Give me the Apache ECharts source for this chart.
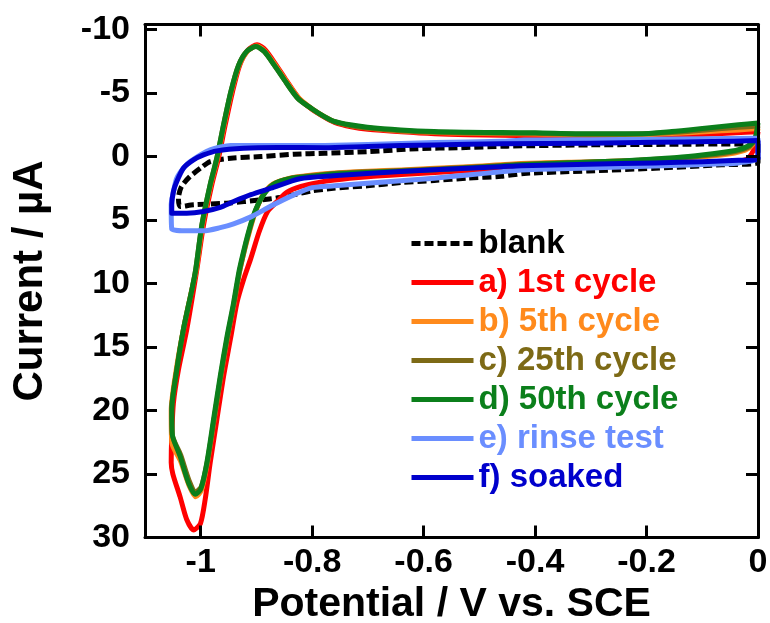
<!DOCTYPE html>
<html>
<head>
<meta charset="utf-8">
<script src="https://cdn.jsdelivr.net/npm/echarts@6/dist/echarts.min.js"></script>
<style>
  html, body { margin: 0; padding: 0; background: #fff; }
  #chart { width: 770px; height: 623px; }
</style>
</head>
<body>
<div id="chart"></div>
<script>
// ---- Data (potential V vs SCE, current µA) ----
const xTicks = [-1, -0.8, -0.6, -0.4, -0.2, 0];
const yTicks = [-10, -5, 0, 5, 10, 15, 20, 25, 30];

const seriesNames = ['blank', 'a) 1st cycle', 'b) 5th cycle', 'c) 25th cycle', 'd) 50th cycle', 'e) rinse test', 'f) soaked'];
const seriesColors = ['#000000', '#ff0000', '#ff8a1c', '#7d6a16', '#0b7f1b', '#6a8eff', '#0000cc'];

const blankData = [
  [0, -1.0], [0, 0.47], [-0.065, 0.65], [-0.185, 0.92], [-0.305, 1.13], [-0.42, 1.33],
  [-0.461, 1.55], [-0.521, 1.7], [-0.581, 1.88], [-0.641, 2.05], [-0.701, 2.3], [-0.762, 2.5],
  [-0.80, 2.7], [-0.832, 3.0], [-0.862, 3.25], [-0.892, 3.41], [-0.953, 3.67], [-1.013, 3.8],
  [-1.037, 3.94], [-1.04, 3.3], [-1.035, 2.4], [-1.02, 1.6], [-1.0, 0.9], [-0.983, 0.39],
  [-0.946, 0.13], [-0.892, 0.0], [-0.832, -0.18], [-0.778, -0.26], [-0.70, -0.39],
  [-0.611, -0.62], [-0.533, -0.7], [-0.45, -0.82], [-0.3, -0.92], [-0.1, -0.98], [0, -1.0]
];

const cycle1Data = [
  [0, -1.95], [-0.005, -0.8], [-0.02, 0.2], [-0.06, 0.45], [-0.12, 0.55], [-0.2, 0.62],
  [-0.3, 0.72], [-0.42, 0.88], [-0.52, 1.1], [-0.64, 1.42], [-0.70, 1.6], [-0.76, 1.85],
  [-0.79, 2.05], [-0.82, 2.35], [-0.845, 2.8], [-0.862, 3.5], [-0.880, 4.33], [-0.895, 5.9],
  [-0.910, 8.0], [-0.9225, 9.6], [-0.935, 11.5], [-0.946, 14.2], [-0.959, 17.3], [-0.971, 20.7],
  [-0.983, 24.1], [-0.992, 27.0], [-1.0005, 28.9], [-1.0126, 29.4], [-1.025, 28.6], [-1.037, 26.8],
  [-1.050, 25.0], [-1.053, 24.1], [-1.052, 22.0], [-1.049, 19.4], [-1.040, 16.8], [-1.025, 13.6],
  [-1.007, 8.9], [-0.995, 5.4], [-0.980, 2.2], [-0.968, 0.1], [-0.956, -2.5], [-0.943, -5.1],
  [-0.930, -7.2], [-0.915, -8.4], [-0.899, -8.8], [-0.884, -8.4], [-0.866, -7.3], [-0.848, -6.1],
  [-0.824, -4.6], [-0.80, -3.7], [-0.778, -3.1], [-0.76, -2.7], [-0.73, -2.35], [-0.70, -2.15],
  [-0.64, -1.95], [-0.58, -1.8], [-0.52, -1.72], [-0.46, -1.68], [-0.40, -1.65], [-0.30, -1.6],
  [-0.22, -1.6], [-0.15, -1.65], [-0.09, -1.75], [-0.04, -1.87], [0, -1.95]
];

const cycle5Data = [
  [0, -2.2], [-0.005, -1.3], [-0.015, -0.7], [-0.035, -0.35], [-0.07, -0.1], [-0.125, 0.1],
  [-0.185, 0.25], [-0.245, 0.35], [-0.305, 0.42], [-0.425, 0.55], [-0.52, 0.8], [-0.64, 1.05],
  [-0.70, 1.15], [-0.76, 1.3], [-0.80, 1.45], [-0.84, 1.7], [-0.87, 2.15], [-0.888, 3.0],
  [-0.903, 4.5], [-0.915, 6.3], [-0.925, 8.0], [-0.931, 9.2], [-0.940, 11.5], [-0.952, 14.2],
  [-0.964, 17.3], [-0.976, 20.7], [-0.988, 24.1], [-0.999, 26.3], [-1.009, 26.8], [-1.021, 25.9],
  [-1.036, 24.0], [-1.052, 22.5], [-1.053, 20.0], [-1.044, 16.8], [-1.031, 13.6], [-1.016, 10.5],
  [-1.008, 8.9], [-0.997, 5.4], [-0.982, 2.2], [-0.970, 0.1], [-0.958, -2.5], [-0.945, -5.1],
  [-0.931, -7.2], [-0.916, -8.3], [-0.900, -8.7], [-0.885, -8.3], [-0.867, -7.25], [-0.849, -6.1],
  [-0.825, -4.65], [-0.80, -3.75], [-0.778, -3.15], [-0.762, -2.78], [-0.732, -2.45], [-0.70, -2.25],
  [-0.641, -2.02], [-0.581, -1.9], [-0.521, -1.83], [-0.46, -1.8], [-0.40, -1.78], [-0.305, -1.72],
  [-0.215, -1.72], [-0.155, -1.82], [-0.095, -1.95], [-0.035, -2.1], [0, -2.2]
];

const cycle25Data = [
  [0, -2.4], [-0.005, -1.4], [-0.015, -0.8], [-0.035, -0.45], [-0.065, -0.22], [-0.125, 0.05],
  [-0.185, 0.22], [-0.245, 0.34], [-0.305, 0.43], [-0.425, 0.6], [-0.52, 0.85], [-0.64, 1.1],
  [-0.70, 1.2], [-0.76, 1.33], [-0.80, 1.5], [-0.84, 1.72], [-0.87, 2.18], [-0.889, 3.1],
  [-0.904, 4.55], [-0.916, 6.35], [-0.925, 8.0], [-0.931, 9.2], [-0.940, 11.5], [-0.952, 14.2],
  [-0.964, 17.3], [-0.976, 20.7], [-0.988, 24.0], [-0.999, 26.0], [-1.009, 26.4], [-1.021, 25.5],
  [-1.036, 23.5], [-1.051, 21.9], [-1.052, 19.9], [-1.043, 16.8], [-1.031, 13.6], [-1.016, 10.5],
  [-1.009, 8.9], [-0.998, 5.4], [-0.983, 2.2], [-0.971, 0.1], [-0.959, -2.5], [-0.946, -5.1],
  [-0.932, -7.2], [-0.917, -8.3], [-0.901, -8.66], [-0.886, -8.27], [-0.868, -7.2], [-0.850, -6.04],
  [-0.826, -4.6], [-0.80, -3.75], [-0.778, -3.13], [-0.762, -2.78], [-0.732, -2.45], [-0.70, -2.25],
  [-0.641, -2.03], [-0.581, -1.92], [-0.521, -1.86], [-0.46, -1.84], [-0.40, -1.83], [-0.305, -1.76],
  [-0.215, -1.78], [-0.155, -1.9], [-0.095, -2.1], [-0.035, -2.3], [0, -2.4]
];

const cycle50Data = [
  [0, -2.65], [-0.005, -1.5], [-0.015, -0.9], [-0.035, -0.55], [-0.065, -0.32], [-0.125, 0.0],
  [-0.185, 0.2], [-0.245, 0.34], [-0.305, 0.44], [-0.425, 0.65], [-0.52, 0.9], [-0.64, 1.15],
  [-0.70, 1.25], [-0.76, 1.38], [-0.80, 1.55], [-0.84, 1.75], [-0.87, 2.2], [-0.89, 3.2],
  [-0.905, 4.6], [-0.917, 6.4], [-0.926, 8.0], [-0.932, 9.2], [-0.941, 11.5], [-0.953, 14.2],
  [-0.965, 17.3], [-0.977, 20.7], [-0.989, 24.1], [-1.000, 26.2], [-1.010, 26.6], [-1.022, 25.7],
  [-1.037, 23.6], [-1.051, 21.9], [-1.052, 19.9], [-1.043, 16.8], [-1.031, 13.6], [-1.016, 10.5],
  [-1.009, 8.9], [-0.998, 5.4], [-0.983, 2.2], [-0.971, 0.1], [-0.959, -2.5], [-0.946, -5.1],
  [-0.932, -7.2], [-0.917, -8.3], [-0.901, -8.66], [-0.886, -8.27], [-0.868, -7.2], [-0.850, -6.04],
  [-0.826, -4.6], [-0.80, -3.75], [-0.778, -3.15], [-0.762, -2.8], [-0.732, -2.5], [-0.701, -2.31],
  [-0.641, -2.1], [-0.581, -1.97], [-0.521, -1.92], [-0.46, -1.89], [-0.40, -1.87], [-0.305, -1.79],
  [-0.215, -1.79], [-0.155, -1.97], [-0.095, -2.23], [-0.035, -2.5], [0, -2.65]
];

const rinseData = [
  [0, -1.45], [0, 0.1], [-0.035, 0.5], [-0.065, 0.57], [-0.185, 0.75], [-0.305, 0.9],
  [-0.425, 1.05], [-0.461, 1.2], [-0.521, 1.45], [-0.581, 1.7], [-0.641, 1.9], [-0.701, 2.1],
  [-0.76, 2.3], [-0.80, 2.45], [-0.832, 3.0], [-0.874, 3.9], [-0.910, 4.75], [-0.941, 5.3],
  [-0.965, 5.6], [-0.995, 5.85], [-1.025, 5.85], [-1.052, 5.7], [-1.053, 3.8], [-1.049, 2.76],
  [-1.043, 1.7], [-1.031, 0.9], [-1.019, 0.39], [-0.983, -0.53], [-0.946, -0.87], [-0.862, -0.87],
  [-0.778, -0.88], [-0.70, -0.95], [-0.58, -1.1], [-0.46, -1.2], [-0.42, -1.3], [-0.3, -1.33],
  [-0.185, -1.36], [-0.1, -1.4], [0, -1.45]
];

const soakedData = [
  [0, -1.26], [0, 0.2], [-0.035, 0.3], [-0.10, 0.4], [-0.185, 0.5], [-0.305, 0.6],
  [-0.425, 0.72], [-0.461, 0.8], [-0.521, 0.92], [-0.641, 1.18], [-0.762, 1.52], [-0.822, 1.75],
  [-0.874, 2.49], [-0.910, 3.0], [-0.941, 3.54], [-0.965, 4.0], [-0.995, 4.33], [-1.025, 4.46],
  [-1.052, 4.46], [-1.052, 3.8], [-1.049, 2.76], [-1.043, 1.97], [-1.031, 0.91], [-1.013, 0.26],
  [-0.995, -0.13], [-0.971, -0.45], [-0.923, -0.66], [-0.862, -0.71], [-0.778, -0.70], [-0.70, -0.8],
  [-0.581, -0.92], [-0.461, -1.0], [-0.30, -1.05], [-0.185, -1.13], [-0.08, -1.18], [0, -1.26]
];

const allData = [blankData, cycle1Data, cycle5Data, cycle25Data, cycle50Data, rinseData, soakedData];

// ---- Chart ----
const FONT = "'Liberation Sans', Arial, Helvetica, sans-serif";
const chart = echarts.init(document.getElementById('chart'), null, { renderer: 'canvas' });

const axisLineStyle = { color: '#000', width: 3 };
const tickStyle = { color: '#000', width: 3 };

const series = allData.map((d, i) => ({
  name: seriesNames[i],
  type: 'line',
  data: d,
  symbol: 'none',
  showSymbol: false,
  smooth: 0.25,
  animation: false,
  xAxisIndex: 0,
  yAxisIndex: 0,
  z: 2 + i,
  lineStyle: {
    color: seriesColors[i],
    width: 5,
    type: i === 0 ? [9, 4] : 'solid',
    join: 'round',
    cap: 'butt'
  },
  itemStyle: { color: seriesColors[i] }
}));

const option = {
  animation: false,
  backgroundColor: '#fff',
  grid: { left: 145, right: 12, top: 24.5, bottom: 85.5, containLabel: false, outerBoundsMode: 'none' },
  xAxis: [
    {
      type: 'value', position: 'bottom', min: -1.1, max: 0, z: 20,
      axisLine: { show: true, onZero: false, lineStyle: axisLineStyle },
      axisTick: { show: true, inside: true, length: 12, lineStyle: tickStyle, customValues: xTicks },
      axisLabel: { show: true, customValues: xTicks, margin: 8, color: '#000',
        fontFamily: FONT, fontWeight: 'bold', fontSize: 34 },
      splitLine: { show: false },
      name: 'Potential / V vs. SCE', nameLocation: 'middle', nameGap: 39,
      nameTextStyle: { color: '#000', fontFamily: FONT, fontWeight: 'bold', fontSize: 41 }
    },
    {
      type: 'value', position: 'top', min: -1.1, max: 0, z: 20,
      axisLine: { show: true, onZero: false, lineStyle: axisLineStyle },
      axisTick: { show: true, inside: true, length: 12, lineStyle: tickStyle, customValues: xTicks },
      axisLabel: { show: false },
      splitLine: { show: false }
    }
  ],
  yAxis: [
    {
      type: 'value', position: 'left', inverse: true, min: -10.4, max: 30, z: 20,
      axisLine: { show: true, onZero: false, lineStyle: axisLineStyle },
      axisTick: { show: true, inside: true, length: 12, lineStyle: tickStyle, customValues: yTicks },
      axisLabel: { show: true, customValues: yTicks, margin: 15, color: '#000',
        fontFamily: FONT, fontWeight: 'bold', fontSize: 34 },
      splitLine: { show: false },
      name: 'Current / µA', nameLocation: 'middle', nameGap: 94,
      nameTextStyle: { color: '#000', fontFamily: FONT, fontWeight: 'bold', fontSize: 42 }
    },
    {
      type: 'value', position: 'right', inverse: true, min: -10.4, max: 30, z: 20,
      axisLine: { show: true, onZero: false, lineStyle: axisLineStyle },
      axisTick: { show: true, inside: true, length: 12, lineStyle: tickStyle, customValues: yTicks },
      axisLabel: { show: false },
      splitLine: { show: false }
    }
  ],
  legend: {
    show: true,
    orient: 'vertical',
    left: 409,
    top: 227,
    padding: 0,
    itemWidth: 62,
    itemHeight: 14,
    itemGap: 6,
    selectedMode: false,
    itemStyle: { opacity: 0 },
    lineStyle: { width: 5 },
    textStyle: { fontFamily: FONT, fontWeight: 'bold', fontSize: 33, lineHeight: 33 },
    data: seriesNames.map((n, i) => ({ name: n, textStyle: { color: seriesColors[i] } }))
  },
  series: series
};

chart.setOption(option);
</script>
</body>
</html>
